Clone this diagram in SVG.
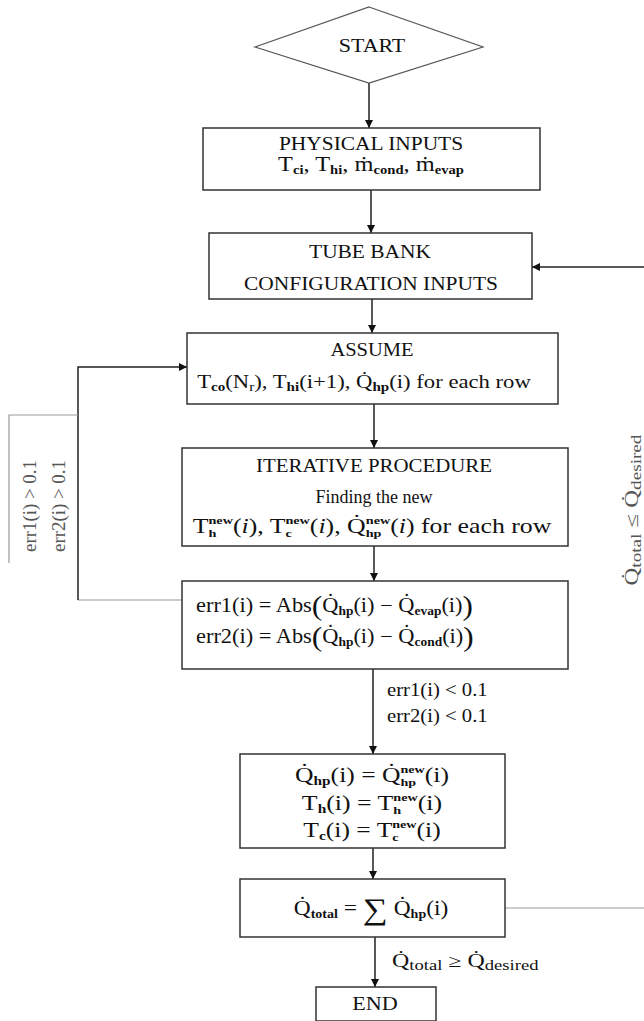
<svg xmlns="http://www.w3.org/2000/svg" width="644" height="1021" viewBox="0 0 644 1021">
<style>
.box{fill:#fff;stroke:#333;stroke-width:1.5}
.ln{fill:none;stroke:#222;stroke-width:1.5}
.gl{fill:none;stroke:#999;stroke-width:1.2}
text{font-family:"Liberation Serif","DejaVu Serif",serif;font-size:18px;fill:#111}
.m{font-size:20px}
.c{text-anchor:middle}
.s{font-size:12px;font-weight:bold}
.t{font-size:11px;font-weight:bold}
.g{fill:#555}
</style>
<defs>
<marker id="ah" viewBox="0 0 10 10" refX="10" refY="5" markerWidth="8" markerHeight="8" markerUnits="userSpaceOnUse" orient="auto">
<path d="M0,0 L10,5 L0,10 z" fill="#111"/>
</marker>
</defs>
<g id="connectors">
<line class="ln" x1="369" y1="83" x2="369" y2="128" marker-end="url(#ah)"/>
<line class="ln" x1="371" y1="190" x2="371" y2="233" marker-end="url(#ah)"/>
<line class="ln" x1="372" y1="299" x2="372" y2="333" marker-end="url(#ah)"/>
<line class="ln" x1="374" y1="404" x2="374" y2="448" marker-end="url(#ah)"/>
<line class="ln" x1="374" y1="546" x2="374" y2="581" marker-end="url(#ah)"/>
<line class="ln" x1="373" y1="669" x2="373" y2="754" marker-end="url(#ah)"/>
<line class="ln" x1="373" y1="848" x2="373" y2="879" marker-end="url(#ah)"/>
<line class="ln" x1="375" y1="937" x2="375" y2="987" marker-end="url(#ah)"/>
<polyline class="gl" points="182,600 78,600"/>
<polyline class="ln" points="78,600 78,367 187,367" marker-end="url(#ah)"/>
<polyline class="gl" points="78,415 9,415 9,563"/>
<line class="gl" x1="505" y1="908" x2="644" y2="908"/>
<line class="ln" x1="644" y1="267" x2="532" y2="267" marker-end="url(#ah)"/>
<text class="g c" transform="translate(36,506) rotate(-90) scale(1.05,1)">err1(i) &gt; 0.1</text>
<text class="g c" transform="translate(65,506) rotate(-90) scale(1.05,1)">err2(i) &gt; 0.1</text>
<text transform="translate(387,696) scale(1.15,1)">err1(i) &lt; 0.1</text>
<text transform="translate(387,722) scale(1.15,1)">err2(i) &lt; 0.1</text>
<text transform="translate(392,967) scale(1.33,1)" font-size="19" fill="#333">Q̇<tspan font-size="14" dy="3">total</tspan><tspan dy="-3"> ≥ Q̇</tspan><tspan font-size="14" dy="3">desired</tspan></text>
<text class="g c" transform="translate(638,510) rotate(-90) scale(1.37,1)" font-size="19">Q̇<tspan font-size="14" dy="3">total</tspan><tspan dy="-3"> ≤ Q̇</tspan><tspan font-size="14" dy="3">desired</tspan></text>
</g>
<g id="start">
<polygon points="369,7 483,47 369,83 255,47" fill="#fff" stroke="#555" stroke-width="1.2"/>
<text class="c" transform="translate(372,52) scale(1.22,1)" font-size="17">START</text>
</g>
<g id="physical">
<rect class="box" x="203" y="128" width="337" height="62"/>
<text class="c" transform="translate(371,150) scale(1.19,1)">PHYSICAL INPUTS</text>
<text class="c m" transform="translate(371,171) scale(1.22,1)" font-size="19">T<tspan class="s" dy="3">ci</tspan><tspan dy="-3">, T</tspan><tspan class="s" dy="3">hi</tspan><tspan dy="-3">, ṁ</tspan><tspan class="s" dy="3">cond</tspan><tspan dy="-3">, ṁ</tspan><tspan class="s" dy="3">evap</tspan></text>
</g>
<g id="tubebank">
<rect class="box" x="209" y="233" width="323" height="66"/>
<text class="c" transform="translate(370,258) scale(1.19,1)">TUBE BANK</text>
<text class="c" transform="translate(371,290) scale(1.19,1)">CONFIGURATION INPUTS</text>
</g>
<g id="assume">
<rect class="box" x="187" y="333" width="371" height="71"/>
<text class="c" transform="translate(372,356) scale(1.14,1)">ASSUME</text>
<text class="c" transform="translate(364,388) scale(1.26,1)" font-size="19">T<tspan class="s" dy="3">co</tspan><tspan dy="-3">(N</tspan><tspan font-size="12" dy="3">r</tspan><tspan dy="-3">), T</tspan><tspan class="s" dy="3">hi</tspan><tspan dy="-3">(i+1), Q̇</tspan><tspan class="s" dy="3">hp</tspan><tspan dy="-3">(i) for each row</tspan></text>
</g>
<g id="iterative">
<rect class="box" x="182" y="448" width="386" height="98"/>
<text class="c" transform="translate(374,472) scale(1.16,1)">ITERATIVE PROCEDURE</text>
<text class="c" transform="translate(374,503)">Finding the new</text>
<text class="c m" transform="translate(372,533) scale(1.29,1)">T<tspan class="t" dy="4">h</tspan><tspan class="t" dx="-6.1" dy="-13">new</tspan><tspan dy="9">(</tspan><tspan font-style="italic">i</tspan>), T<tspan class="t" dy="4">c</tspan><tspan class="t" dx="-4.9" dy="-13">new</tspan><tspan dy="9">(</tspan><tspan font-style="italic">i</tspan>), Q̇<tspan class="t" dy="4">hp</tspan><tspan class="t" dx="-12.2" dy="-13">new</tspan><tspan dy="9">(</tspan><tspan font-style="italic">i</tspan>) for each row</text>
</g>
<g id="err">
<rect class="box" x="182" y="581" width="386" height="88"/>
<text class="m" transform="translate(196,612) scale(1.12,1)">err1(i) = Abs<tspan font-size="28" dy="3">(</tspan><tspan dy="-3">Q̇</tspan><tspan class="s" dy="3">hp</tspan><tspan dy="-3">(i) − Q̇</tspan><tspan class="s" dy="3">evap</tspan><tspan dy="-3">(i)</tspan><tspan font-size="28" dy="3">)</tspan></text>
<text class="m" transform="translate(196,643) scale(1.12,1)">err2(i) = Abs<tspan font-size="28" dy="3">(</tspan><tspan dy="-3">Q̇</tspan><tspan class="s" dy="3">hp</tspan><tspan dy="-3">(i) − Q̇</tspan><tspan class="s" dy="3">cond</tspan><tspan dy="-3">(i)</tspan><tspan font-size="28" dy="3">)</tspan></text>
</g>
<g id="update">
<rect class="box" x="240" y="754" width="265" height="94"/>
<text class="c m" transform="translate(372,782) scale(1.28,1)">Q̇<tspan class="s" dy="3">hp</tspan><tspan dy="-3">(i) = Q̇</tspan><tspan class="t" dy="4">hp</tspan><tspan class="t" dx="-12.2" dy="-13">new</tspan><tspan dy="9">(i)</tspan></text>
<text class="c m" transform="translate(372,810) scale(1.29,1)">T<tspan class="s" dy="3">h</tspan><tspan dy="-3">(i) = T</tspan><tspan class="t" dy="4">h</tspan><tspan class="t" dx="-6.1" dy="-13">new</tspan><tspan dy="9">(i)</tspan></text>
<text class="c m" transform="translate(372,837) scale(1.28,1)">T<tspan class="s" dy="3">c</tspan><tspan dy="-3">(i) = T</tspan><tspan class="t" dy="4">c</tspan><tspan class="t" dx="-4.9" dy="-13">new</tspan><tspan dy="9">(i)</tspan></text>
</g>
<g id="total">
<rect class="box" x="240" y="879" width="265" height="58"/>
<text class="c m" transform="translate(371,915) scale(1.17,1)">Q̇<tspan class="s" dy="3">total</tspan><tspan dy="-3"> = </tspan><tspan font-size="30" dy="4">∑</tspan><tspan dy="-4"> Q̇</tspan><tspan class="s" dy="3">hp</tspan><tspan dy="-3">(i)</tspan></text>
</g>
<g id="end">
<rect class="box" x="316" y="987" width="120" height="34"/>
<text class="c" transform="translate(375,1010) scale(1.23,1)" font-size="17">END</text>
</g>
</svg>
